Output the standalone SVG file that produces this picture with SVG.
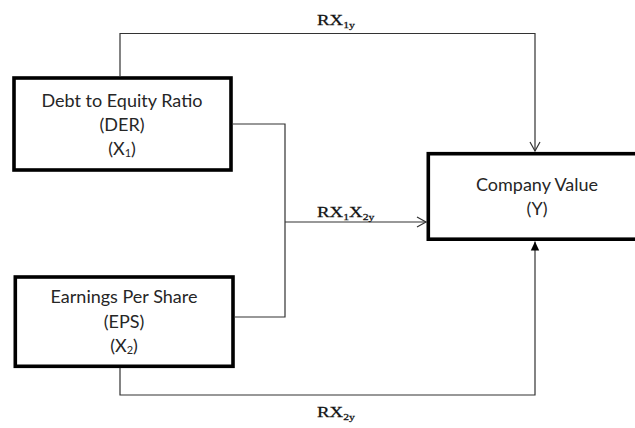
<svg xmlns="http://www.w3.org/2000/svg" width="635" height="428" viewBox="0 0 635 428">
  <style>
    .box { fill: #ffffff; stroke: #000000; stroke-width: 3.6; }
    .lbl { font-family: Lato, "Open Sans", "Liberation Sans", sans-serif; font-size: 18px; fill: #262626; text-anchor: middle; }
    .conn { fill: none; stroke: #333333; stroke-width: 1.2; }
    .path-lbl { font-family: "Liberation Serif", "DejaVu Serif", serif; font-size: 14.5px; fill: #111111; stroke: #111111; stroke-width: 0.25; }
    .sub { font-size: 9px; }
  </style>
  <defs>
    <marker id="open-arrow" markerWidth="12" markerHeight="12" refX="10" refY="6" orient="auto" markerUnits="userSpaceOnUse">
      <path d="M1,1 L10,6 L1,11" fill="none" stroke="#333333" stroke-width="1.2"/>
    </marker>
    <marker id="solid-arrow" markerWidth="10" markerHeight="10" refX="9" refY="5" orient="auto" markerUnits="userSpaceOnUse">
      <path d="M0,0.8 L9,5 L0,9.2 Z" fill="#000000"/>
    </marker>
  </defs>
  <rect width="635" height="428" fill="#ffffff"/>

  <g id="connectors">
    <!-- X1 to Y along the top -->
    <path class="conn" d="M120,76 V33.5 H535 V151" marker-end="url(#open-arrow)"/>
    <!-- X1 and X2 joined into the interaction path -->
    <path class="conn" d="M233,124 H285 V317 H235"/>
    <path class="conn" d="M285,222 H426" marker-end="url(#open-arrow)"/>
    <!-- X2 to Y along the bottom -->
    <path class="conn" d="M120,368 V395 H535 V241.5" marker-end="url(#solid-arrow)"/>
  </g>

  <g id="path-labels">
    <g transform="translate(317,24.5) scale(1.3,1)">
      <text class="path-lbl">RX<tspan class="sub" dy="3">1y</tspan></text>
    </g>
    <g transform="translate(317,216.5) scale(1.3,1)">
      <text class="path-lbl">RX<tspan class="sub" dy="3">1</tspan><tspan dy="-3">X</tspan><tspan class="sub" dy="3">2y</tspan></text>
    </g>
    <g transform="translate(317,416.5) scale(1.3,1)">
      <text class="path-lbl">RX<tspan class="sub" dy="3">2y</tspan></text>
    </g>
  </g>

  <g id="node-der">
    <rect class="box" x="14" y="78" width="217" height="92"/>
    <text class="lbl" x="122" y="106.5">Debt to Equity Ratio</text>
    <text class="lbl" x="122" y="130.5">(DER)</text>
    <text class="lbl" x="122" y="154.5">(X<tspan font-size="11px" dy="2">1</tspan><tspan dy="-2">)</tspan></text>
  </g>

  <g id="node-eps">
    <rect class="box" x="15.3" y="277" width="217.7" height="89.3"/>
    <text class="lbl" x="124" y="303">Earnings Per Share</text>
    <text class="lbl" x="124" y="327.5">(EPS)</text>
    <text class="lbl" x="124" y="352">(X<tspan font-size="11px" dy="2">2</tspan><tspan dy="-2">)</tspan></text>
  </g>

  <g id="node-company-value">
    <rect class="box" x="428.3" y="153.7" width="215" height="85.5"/>
    <text class="lbl" x="537" y="191">Company Value</text>
    <text class="lbl" x="537" y="215">(Y)</text>
  </g>
</svg>
